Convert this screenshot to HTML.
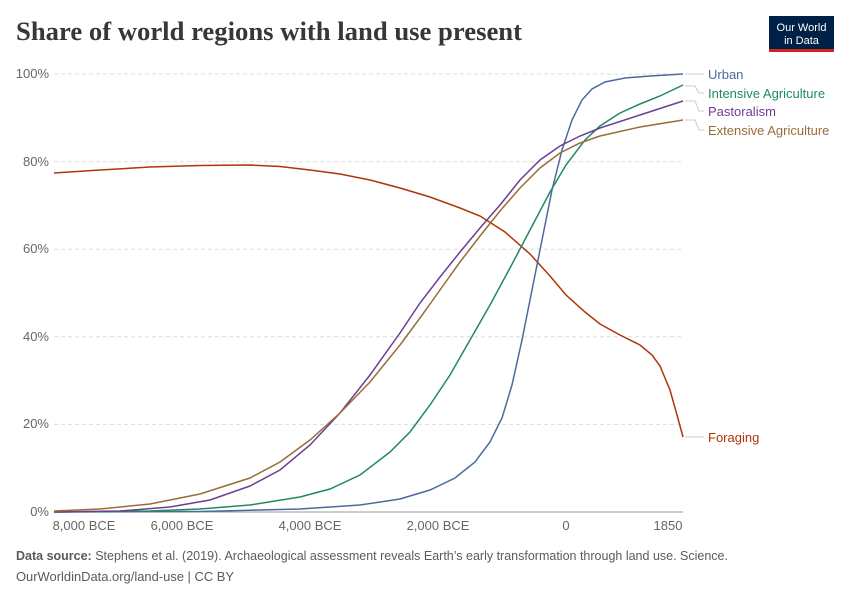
<!DOCTYPE html>
<html><head><meta charset="utf-8"><style>
body{margin:0;background:#fff;font-family:"Liberation Sans",sans-serif}
svg text{font-family:"Liberation Sans",sans-serif}
</style></head><body>
<svg width="850" height="600" xmlns="http://www.w3.org/2000/svg">
<text x="16" y="40" font-size="26" font-weight="bold" fill="#373737" textLength="506" lengthAdjust="spacingAndGlyphs" style="font-family:'Liberation Serif',serif">Share of world regions with land use present</text>
<rect x="769" y="16" width="65" height="36" fill="#002147"/>
<rect x="769" y="49" width="65" height="3" fill="#ce261e"/>
<text x="801.5" y="31" font-size="11" fill="#fff" text-anchor="middle">Our World</text>
<text x="801.5" y="44" font-size="11" fill="#fff" text-anchor="middle">in Data</text>
<g stroke="#ddd" stroke-dasharray="4,3">
<line x1="54" x2="683" y1="74" y2="74"/><line x1="54" x2="683" y1="161.6" y2="161.6"/>
<line x1="54" x2="683" y1="249.2" y2="249.2"/><line x1="54" x2="683" y1="336.8" y2="336.8"/>
<line x1="54" x2="683" y1="424.4" y2="424.4"/>
</g>
<line x1="54" x2="683" y1="512" y2="512" stroke="#999"/>
<g font-size="13" fill="#666" text-anchor="end">
<text x="49" y="78">100%</text><text x="49" y="166">80%</text><text x="49" y="253">60%</text>
<text x="49" y="341">40%</text><text x="49" y="428">20%</text><text x="49" y="516">0%</text>
</g>
<g font-size="13" fill="#666" text-anchor="middle">
<text x="84" y="530">8,000 BCE</text><text x="182" y="530">6,000 BCE</text><text x="310" y="530">4,000 BCE</text>
<text x="438" y="530">2,000 BCE</text><text x="566" y="530">0</text><text x="668" y="530">1850</text>
</g>
<g fill="none" stroke-width="1.5">
<polyline stroke="#b13507" points="54,173 100,170 150,167 200,165.5 250,165 280,166.5 310,170 340,174 370,180 400,188 430,197 460,208 480,216 505,232 530,254 550,276 566,295 585,312 600,324 620,335 640,345 652,355 660,366 670,390 677,415 683,437"/>
<polyline stroke="#4c6a9c" points="54,512 200,511.5 300,509 360,505 400,499 430,490 455,478 475,462 490,442 502,418 512,385 522,340 532,290 542,240 552,190 562,150 572,120 582,100 592,89 605,82 625,78 650,76 683,74"/>
<polyline stroke="#1f8a5e" points="54,512 150,511 200,509 250,505 300,497 330,489 360,475 390,452 410,432 430,405 450,375 470,340 490,305 510,268 530,230 550,192 566,165 585,140 600,126 620,113 640,104 660,96 683,85"/>
<polyline stroke="#6d3e91" points="54,512 120,511 170,507 210,500 250,486 280,470 310,445 340,413 370,375 400,333 420,303 440,277 460,252 480,228 500,205 520,180 540,160 560,146 580,136 600,128 640,115 683,101"/>
<polyline stroke="#996d39" points="54,511 100,509 150,504 200,494 250,478 280,462 310,440 340,413 370,382 400,345 420,318 440,290 460,262 480,236 500,211 520,188 540,168 560,153 580,143 600,136 640,127 683,120"/>
</g>
<g stroke="#ccc" fill="none">
<polyline points="685,74 704,74"/><polyline points="685,86 695,86 699,93 704,93"/>
<polyline points="685,101 695,101 699,111 704,111"/><polyline points="685,120 695,120 699,130 704,130"/>
<polyline points="685,437 704,437"/>
</g>
<g font-size="13">
<text x="708" y="79" fill="#4c6a9c">Urban</text>
<text x="708" y="98" fill="#1f8a5e">Intensive Agriculture</text>
<text x="708" y="116" fill="#6d3e91">Pastoralism</text>
<text x="708" y="135" fill="#996d39">Extensive Agriculture</text>
<text x="708" y="442" fill="#b13507">Foraging</text>
</g>
<text x="16" y="560" font-size="13" fill="#5b5b5b" textLength="712" lengthAdjust="spacingAndGlyphs"><tspan font-weight="bold">Data source:</tspan> Stephens et al. (2019). Archaeological assessment reveals Earth’s early transformation through land use. Science.</text>
<text x="16" y="581" font-size="13" fill="#5b5b5b" textLength="218" lengthAdjust="spacingAndGlyphs">OurWorldinData.org/land-use | CC BY</text>
</svg>
</body></html>
